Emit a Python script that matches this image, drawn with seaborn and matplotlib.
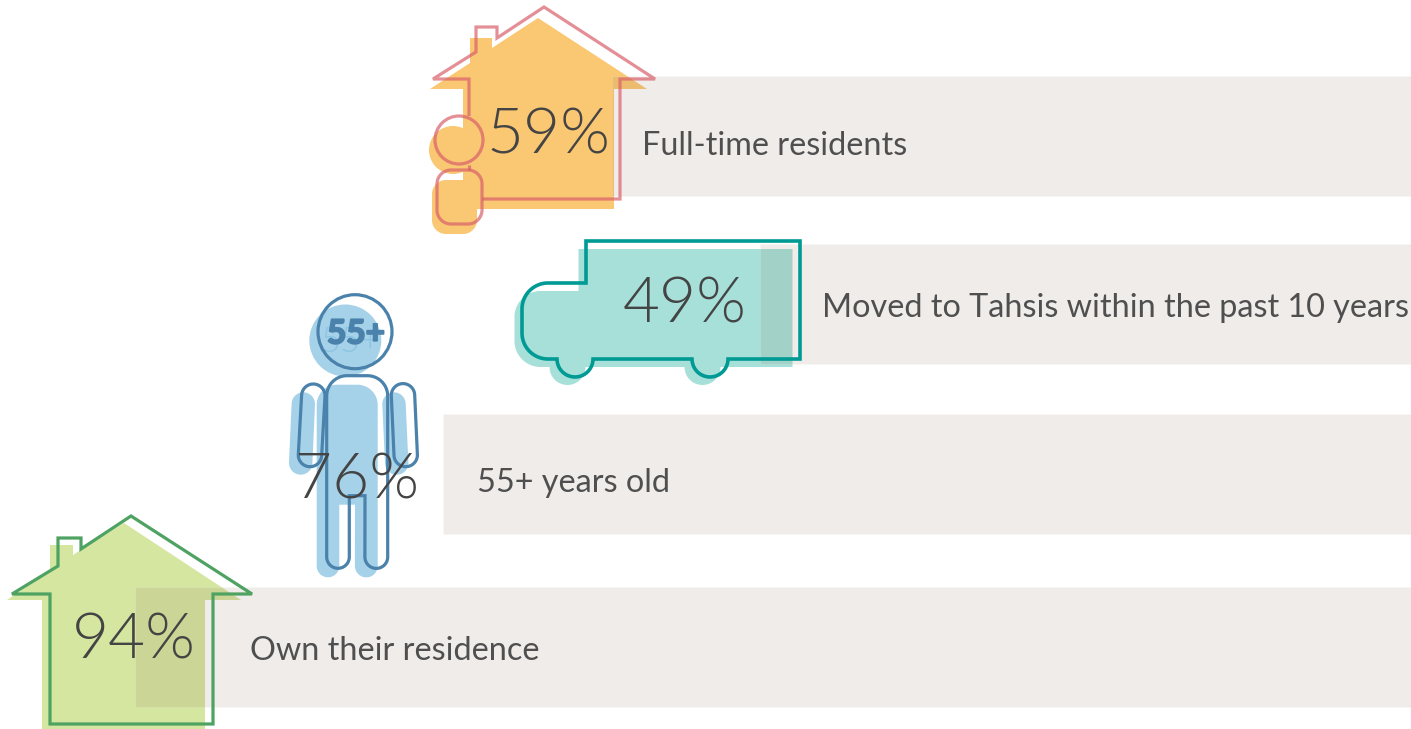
import numpy as np
import pandas as pd
import matplotlib
matplotlib.use('Agg')
import matplotlib.pyplot as plt
import matplotlib.patheffects as pe
from matplotlib.patches import Circle, Polygon
import seaborn as sns

# Chart values, ordered top to bottom
categories = ['Full-time residents', 'Moved to Tahsis within the past 10 years', '55+ years old', 'Own their residence']
percent_labels = ['59%', '49%', '76%', '94%']
bar_centers = [136, 304, 474, 647]
bar_lefts = [612, 760, 443, 135]
bar_rights = [1411, 1411, 1411, 1411]

TEXT = '#444444'

sns.set_theme(style='white')
plt.rcParams['font.family'] = ['Lato', 'DejaVu Sans']


def arc(cx, cy, r, a0, a1, n=24):
    # angles in degrees, y axis points down here
    t = np.radians(np.linspace(a0, a1, n))
    return np.column_stack([cx + r * np.cos(t), cy + r * np.sin(t)])


def capsule(x0, y0, x1, y1, r):
    ang = np.degrees(np.arctan2(y1 - y0, x1 - x0))
    return np.vstack([arc(x0, y0, r, ang + 90, ang + 270), arc(x1, y1, r, ang - 90, ang + 90)])


def round_box(x0, y0, x1, y1, r):
    return np.vstack([
        arc(x0 + r, y0 + r, r, 180, 270),
        arc(x1 - r, y0 + r, r, 270, 360),
        arc(x1 - r, y1 - r, r, 0, 90),
        arc(x0 + r, y1 - r, r, 90, 180),
    ])


def fill(pts, color, dx=0, dy=0):
    ax.add_patch(Polygon(np.asarray(pts) + [dx, dy], closed=True, fc=color, ec='none', zorder=1))


def line(pts, color, lw=2.3, alpha=1.0, closed=True):
    ax.add_patch(Polygon(np.asarray(pts), closed=closed, fc='none', ec=color, lw=lw, alpha=alpha,
                         joinstyle='miter', zorder=3))


fig = plt.figure(figsize=(14.11, 7.29), dpi=100)
ax = fig.add_axes([0, 0, 1, 1])

# grey bands, see-through so they tint the icons they run under
df = pd.DataFrame({'center': bar_centers, 'length': np.subtract(bar_rights, bar_lefts), 'left': bar_lefts})
sns.barplot(data=df, x='length', y='center', orient='y', native_scale=True, left=df['left'].values,
            width=120 / 168, color=(137 / 255, 105 / 255, 84 / 255), saturation=1, alpha=0.12, zorder=2, ax=ax)

# orange house and person
ORANGE = '#fac772'
RED = '#d9606a'
fill([(538, 18), (647, 89), (614, 89), (614, 209), (463, 209), (463, 89), (430, 89), (470, 63),
      (470, 38), (492, 38), (492, 48)], ORANGE)
ax.add_patch(Circle((453, 150), 24, fc=ORANGE, ec='none', zorder=1))
fill(round_box(432, 180, 477, 234, 14), ORANGE)
line([(469, 116), (469, 79), (433, 79), (476, 52), (476, 27), (497, 27), (497, 38), (544, 7),
      (655, 79), (620, 79), (620, 199), (482, 199)], RED, alpha=0.7, closed=False)
line([(469, 165), (469, 170)], RED, alpha=0.7, closed=False)
ax.add_patch(Circle((459, 140), 24, fc='none', ec=RED, lw=2.3, alpha=0.7, zorder=3))
line(round_box(437, 170, 482, 224, 14), RED, alpha=0.7)

# truck
truck = np.vstack([
    [(586, 241), (800, 241), (800, 359), (728, 359)],
    arc(710, 359, 18, 0, 180),
    arc(575, 359, 18, 0, 180),
    arc(548, 333, 26, 90, 180),
    arc(548, 309, 26, 180, 270),
    [(586, 283)],
])
fill(truck, '#a6e0d8', dx=-7.5, dy=8)
line(truck, '#009a94', lw=2.6)

# person
BLUE_FILL = '#a5d2e9'
BLUE = '#4a82ab'
body = np.vstack([
    arc(347, 396, 20.3, 180, 270),
    arc(367.4, 396, 20.3, 270, 360),
    arc(376.3, 557, 11.4, 0, 180),
    [(365, 495.7), (349.3, 495.7)],
    arc(338, 557, 11.3, 0, 180),
])
fill(body, BLUE_FILL, dx=-10, dy=9)
fill(capsule(303.3, 404, 300.7, 463, 11.7), BLUE_FILL)
fill(capsule(394, 404, 396.7, 463, 11.7), BLUE_FILL)
ax.add_patch(Circle((345.3, 340.5), 36, fc=BLUE_FILL, ec='none', zorder=1))
line(body, BLUE)
line(capsule(313.3, 395.7, 310, 455, 11.7), BLUE)
line(capsule(403, 395.3, 405.7, 455, 11.7), BLUE)
ax.add_patch(Circle((355, 331.7), 37, fc='none', ec=BLUE, lw=2.3, zorder=3))
ax.text(351, 341.5, '55+', fontsize=25, fontweight=300, color='#8cc4e3', ha='center', va='center', zorder=2)
t55 = ax.text(356, 334, '55+', fontsize=24, fontweight='bold', color=BLUE, ha='center', va='center', zorder=4)
t55.set_path_effects([pe.withStroke(linewidth=1.4, foreground=BLUE)])

# green house
fill([(124, 523), (241, 600), (205, 600), (205, 729), (42, 729), (42, 600), (7, 600), (50, 571),
      (50, 545), (73, 545), (73, 555)], '#d5e6a0')
line([(131, 516), (252, 594), (213, 594), (213, 724), (50, 724), (50, 594), (12, 594), (58, 566),
      (58, 538), (81, 538), (81, 549)], '#4ea262')

# text
pct_x = [548, 685, 357, 134]
pct_y = [136, 305, 481, 641]
label_x = [642, 822, 477, 250]
label_y = [145.5, 307.5, 482.5, 651.5]
for px, py, pct in zip(pct_x, pct_y, percent_labels):
    ax.text(px, py, pct, fontsize=46, fontweight=300, color=TEXT, ha='center', va='center', zorder=5)
for lx, ly, cat in zip(label_x, label_y, categories):
    ax.text(lx, ly, cat, fontsize=23.3, fontweight='normal', color='#4f4f4f', ha='left', va='center', zorder=5)

ax.set_xlim(0, 1411)
ax.set_ylim(729, 0)
ax.axis('off')

plt.savefig('out.png', dpi=100)
